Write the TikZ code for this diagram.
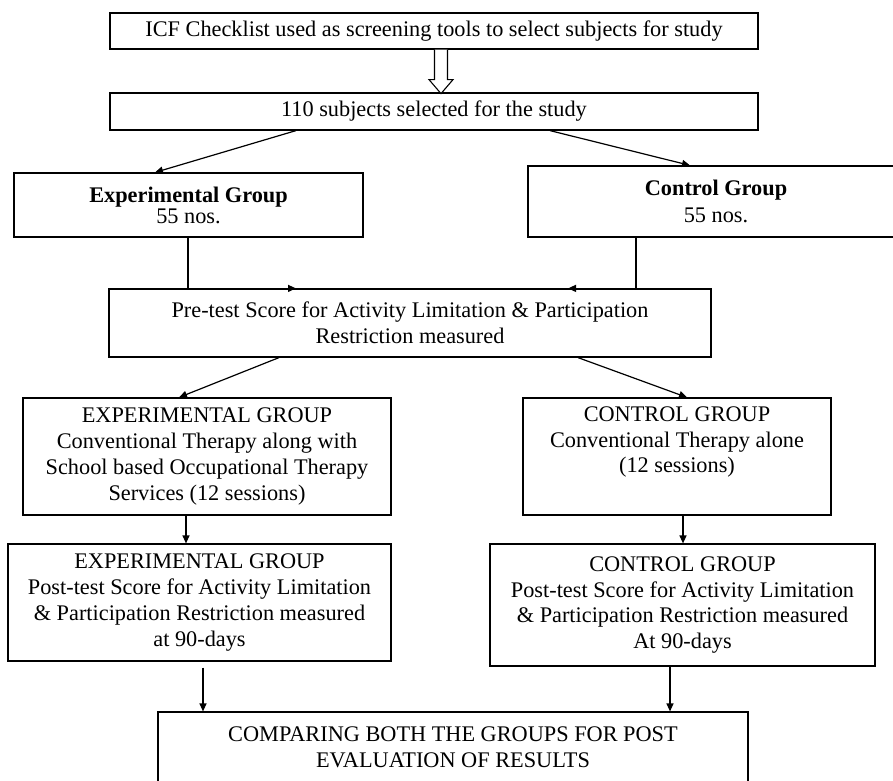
\documentclass[tikz,border=0pt]{standalone}
\usepackage{fontspec}
\setmainfont{Liberation Serif}
\usetikzlibrary{arrows.meta,calc}
\begin{document}
\begin{tikzpicture}[x=1pt,y=-1pt,
  box/.style={draw=black,line width=1.2pt,inner sep=0pt,align=center,
    font=\fontsize{22.3}{25.8}\selectfont},
  arr/.style={draw=black,line width=1.2pt,-{Triangle[length=8pt,width=7pt]}},
  hollow/.style={draw=black,line width=1.1pt,fill=white}]
\useasboundingbox (0,0) rectangle (893,780);
\node[box,minimum width=648pt,minimum height=36pt] (b1) at (434,31)
  {ICF Checklist used as screening tools to select subjects for study};
\node[box,minimum width=648pt,minimum height=37pt] (b2) at (434,111.5)
  {110 subjects selected for the study};
\node[box,minimum width=349pt,minimum height=64pt,font=\fontsize{22.3}{21}\selectfont] (b3) at (188.5,205)
  {\textbf{Experimental Group}\\55 nos.};
\node[box,minimum width=376pt,minimum height=71pt,font=\fontsize{22.3}{27}\selectfont] (b4) at (716,201.5)
  {\textbf{Control Group}\\55 nos.};
\node[box,minimum width=602pt,minimum height=68pt] (b5) at (410,323)
  {Pre-test Score for Activity Limitation \& Participation\\Restriction measured};
\node[box,minimum width=368pt,minimum height=117pt] (b6) at (207,456.5)
  {EXPERIMENTAL GROUP\\Conventional Therapy along with\\School based Occupational Therapy\\Services (12 sessions)};
\node[box,minimum width=308pt,minimum height=117pt] (b7) at (677,456.5)
  {CONTROL GROUP\\Conventional Therapy alone\\(12 sessions)\\\strut};
\node[box,minimum width=383pt,minimum height=117pt] (b8) at (199.5,602.5)
  {EXPERIMENTAL GROUP\\Post-test Score for Activity Limitation\\\& Participation Restriction measured\\at 90-days};
\node[box,minimum width=385pt,minimum height=122pt] (b9) at (682.5,605)
  {CONTROL GROUP\\Post-test Score for Activity Limitation\\\& Participation Restriction measured\\At 90-days};
\node[box,minimum width=590pt,minimum height=71pt] (b10) at (453,747.5)
  {COMPARING BOTH THE GROUPS FOR POST\\EVALUATION OF RESULTS};
% hollow arrow
\coordinate (ha) at ([xshift=7pt]b1.south);
\draw[hollow] ($(ha)+(-6.5,0)$) -- ($(ha)+(-6.5,30)$) -- ($(ha)+(-12,30)$)
  -- ($(ha)+(0,44)$) -- ($(ha)+(12,30)$) -- ($(ha)+(6.5,30)$) -- ($(ha)+(6.5,0)$);
% connectors
\draw[arr] ([xshift=-138pt]b2.south) -- ([xshift=-33.5pt]b3.north);
\draw[arr] ([xshift=116pt]b2.south) -- ([xshift=-26pt]b4.north);
\draw[arr] ([xshift=-0.5pt]b3.south) |- ([xshift=-114pt]b5.north);
\draw[arr] ([xshift=-80pt]b4.south) |- ([xshift=158pt]b5.north);
\draw[arr] ([xshift=-131pt]b5.south) -- ([xshift=-28pt]b6.north);
\draw[arr] ([xshift=168pt]b5.south) -- ([xshift=10pt]b7.north);
\coordinate (c6) at ([xshift=-21pt]b6.south);
\draw[arr] (c6) -- (c6 |- b8.north);
\coordinate (c7) at ([xshift=6pt]b7.south);
\draw[arr] (c7) -- (c7 |- b9.north);
\coordinate (c8) at ([xshift=3.5pt]b8.south);
\draw[arr,shorten <=6pt] (c8) -- (c8 |- b10.north);
\coordinate (c9) at ([xshift=-12.5pt]b9.south);
\draw[arr] (c9) -- (c9 |- b10.north);
\end{tikzpicture}
\end{document}
